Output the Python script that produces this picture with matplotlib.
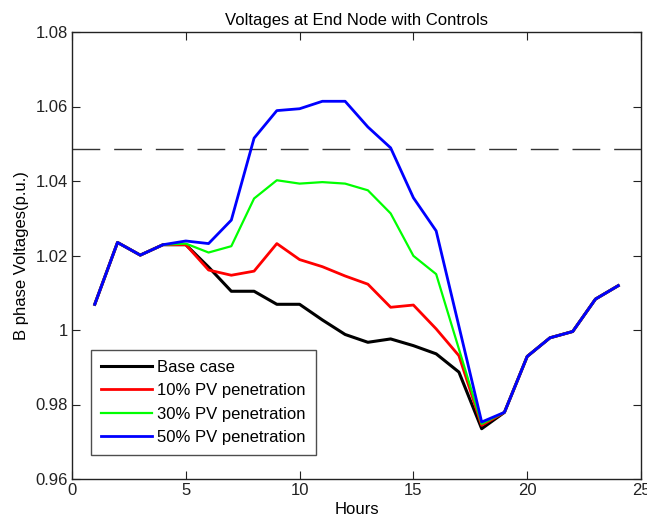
import matplotlib
matplotlib.use("Agg")
import matplotlib.pyplot as plt

hours = list(range(1, 25))
base_case = [1.0069, 1.0235, 1.0201, 1.0229, 1.0229, 1.0169, 1.0104, 1.0104, 1.0069, 1.0069,
             1.0027, 0.9988, 0.9967, 0.9976, 0.9958, 0.9936, 0.9887, 0.9735, 0.9779, 0.9929,
             0.9979, 0.9996, 1.0083, 1.0119]
pv10 = [1.0069, 1.0235, 1.0201, 1.0229, 1.0229, 1.0161, 1.0147, 1.0158, 1.0232, 1.0189,
        1.0170, 1.0145, 1.0123, 1.0061, 1.0067, 1.0003, 0.9931, 0.9744, 0.9779, 0.9929,
        0.9979, 0.9996, 1.0083, 1.0119]
pv30 = [1.0069, 1.0235, 1.0201, 1.0229, 1.0232, 1.0208, 1.0225, 1.0353, 1.0402, 1.0393,
        1.0397, 1.0393, 1.0375, 1.0313, 1.0199, 1.0150, 0.9949, 0.9748, 0.9779, 0.9929,
        0.9979, 0.9996, 1.0083, 1.0119]
pv50 = [1.0069, 1.0235, 1.0201, 1.0229, 1.0239, 1.0232, 1.0295, 1.0515, 1.0589, 1.0594,
        1.0614, 1.0614, 1.0545, 1.0489, 1.0355, 1.0266, 1.0010, 0.9753, 0.9779, 0.9929,
        0.9979, 0.9996, 1.0083, 1.0119]
limit = 1.0485
labels = ["Base case", "10% PV penetration", "30% PV penetration", "50% PV penetration"]
colors = ["#000000", "#ff0000", "#00ff00", "#0000ff"]

plt.rcParams["font.family"] = ["Liberation Sans", "DejaVu Sans"]
FS = 12

W, H = 647, 531
fig = plt.figure(figsize=(W / 100, H / 100), dpi=100)
ax = fig.add_axes([72 / W, (H - 479) / H, (641 - 72) / W, (479 - 32) / H])

ax.axhline(limit, color="#333333", lw=1.0, dashes=(20, 10))
for y, lab, c, lw in zip([base_case, pv10, pv30, pv50], labels, colors, [2.2, 2.0, 1.6, 2.0]):
    ax.plot(hours, y, color=c, lw=lw, label=lab)

ax.set_xlim(0, 25)
ax.set_ylim(0.96, 1.08)
ax.set_xticks([0, 5, 10, 15, 20, 25])
ax.set_yticks([0.96, 0.98, 1.0, 1.02, 1.04, 1.06, 1.08])
ax.set_yticklabels(["0.96", "0.98", "1", "1.02", "1.04", "1.06", "1.08"])
ax.tick_params(direction="in", length=6, top=True, right=True, colors="#222222",
               labelsize=FS, pad=3)
for s in ax.spines.values():
    s.set_color("#222222")
    s.set_linewidth(1.0)

ax.set_title("Voltages at End Node with Controls", fontsize=FS, pad=5)
ax.set_xlabel("Hours", fontsize=FS, labelpad=3)
ax.set_ylabel("B phase Voltages(p.u.)", fontsize=FS, labelpad=5)

leg = ax.legend(loc="lower left", bbox_to_anchor=(0.033, 0.054), borderaxespad=0,
                fontsize=FS, frameon=True, fancybox=False, edgecolor="#222222",
                handlelength=3.05, borderpad=0.6, labelspacing=0.5, handletextpad=0.35)
leg.get_frame().set_linewidth(1.0)

fig.savefig("out.png", dpi=100)
